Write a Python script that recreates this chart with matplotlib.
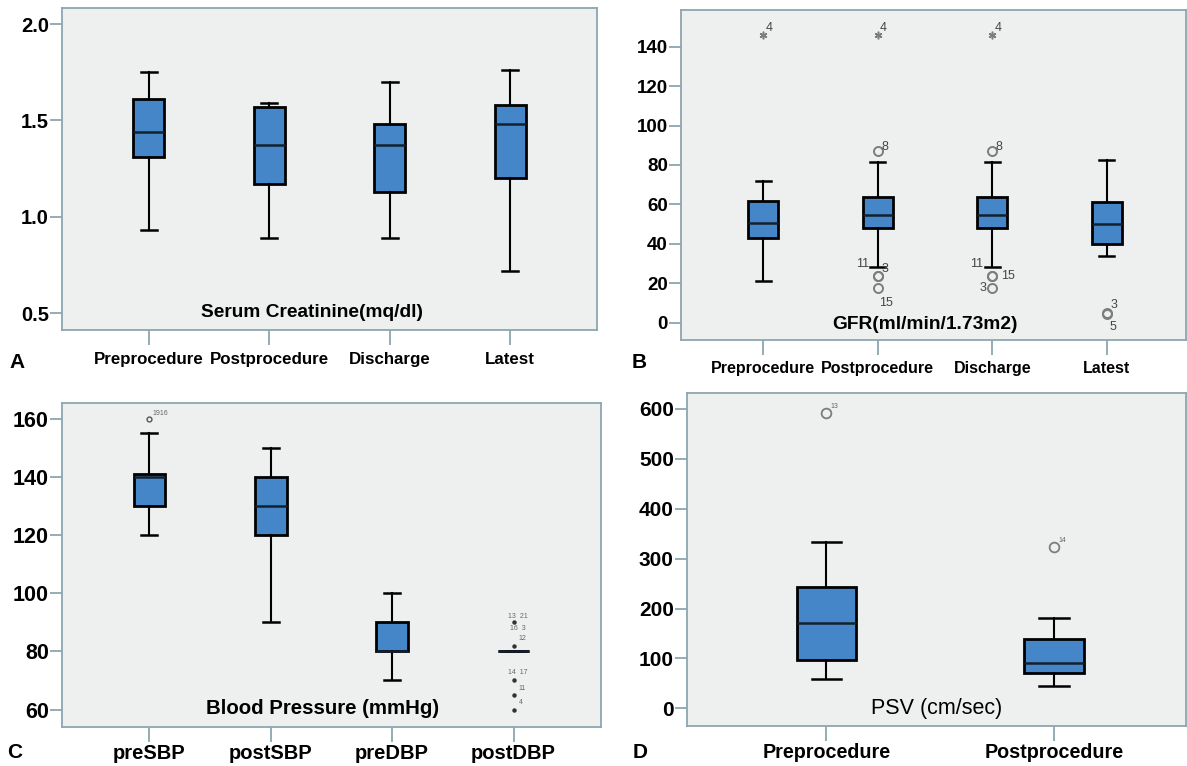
import matplotlib
matplotlib.use('Agg')
import matplotlib.pyplot as plt

# Panel A - serum creatinine
cr_labels = ['Preprocedure', 'Postprocedure', 'Discharge', 'Latest']
cr_low = [0.93, 0.89, 0.89, 0.72]
cr_q1 = [1.31, 1.17, 1.13, 1.20]
cr_med = [1.44, 1.37, 1.37, 1.48]
cr_q3 = [1.61, 1.57, 1.48, 1.58]
cr_high = [1.75, 1.59, 1.70, 1.76]

# Panel B - GFR
gfr_labels = ['Preprocedure', 'Postprocedure', 'Discharge', 'Latest']
gfr_low = [21, 28, 28, 34]
gfr_q1 = [43, 48, 48, 40]
gfr_med = [50.5, 54.5, 54.5, 50]
gfr_q3 = [61.5, 63.5, 63.5, 61]
gfr_high = [72, 81.5, 81.5, 82.5]
# outliers: category, value, marker kind, case label
gfr_out_cat = [1, 2, 2, 2, 2, 2, 3, 3, 3, 3, 3, 4, 4]
gfr_out_val = [146, 146, 87, 23.5, 23.5, 17.5, 146, 87, 23.5, 23.5, 17.5, 4.5, 5]
gfr_out_kind = ['*', '*', 'o', 'o', 'o', 'o', '*', 'o', 'o', 'o', 'o', 'o', 'o']
gfr_out_txt = ['4', '4', '8', '11', '3', '15', '4', '8', '11', '15', '3', '3', '5']

# Panel C - blood pressure
bp_labels = ['preSBP', 'postSBP', 'preDBP', 'postDBP']
bp_low = [120, 90, 70, 80]
bp_q1 = [130, 120, 80, 80]
bp_med = [140, 130, 80, 80]
bp_q3 = [141, 140, 90, 80]
bp_high = [155, 150, 100, 80]
bp_out_cat = [1, 4, 4, 4, 4, 4]
bp_out_val = [160, 90, 82, 70, 65, 60]
bp_out_kind = ['o', '*', '*', '*', '*', '*']
bp_out_txt = ['1916', '13  21\n\n16  3', '12', '14  17', '11', '4']

# Panel D - PSV
psv_labels = ['Preprocedure', 'Postprocedure']
psv_low = [58, 45]
psv_q1 = [97, 71]
psv_med = [171, 90]
psv_q3 = [244, 138]
psv_high = [334, 180]
psv_out_cat = [1, 2]
psv_out_val = [591, 323]
psv_out_txt = ['13', '14']

REG = 'Liberation Sans'

W, H = 1187, 766
BOX = '#4586c8'
FRAME = '#8ca6b0'
AXBG = '#eef0f0'
GREY = '#7d7d7d'

fig = plt.figure(figsize=(W / 100, H / 100), dpi=100)
fig.patch.set_facecolor('white')


def make_ax(l, r, t, b):
    ax = fig.add_axes([l / W, 1 - b / H, (r - l) / W, (b - t) / H])
    ax.set_facecolor(AXBG)
    for s in ax.spines.values():
        s.set_color(FRAME)
        s.set_linewidth(1.3)
    return ax


def draw_boxes(ax, low, q1, med, q3, high, labels, xlim, ylim):
    stats = []
    for i in range(len(labels)):
        stats.append(dict(whislo=low[i], q1=q1[i], med=med[i], q3=q3[i],
                          whishi=high[i], fliers=[], label=labels[i]))
    ax.bxp(stats, positions=range(1, len(labels) + 1), widths=0.26,
           capwidths=0.13, patch_artist=True, showfliers=False,
           boxprops=dict(facecolor=BOX, edgecolor='black', linewidth=2.0),
           medianprops=dict(color='#15202e', linewidth=1.8),
           whiskerprops=dict(color='black', linewidth=1.5),
           capprops=dict(color='black', linewidth=1.8))
    ax.set_xlim(*xlim)
    ax.set_ylim(*ylim)


def style_ticks(ax, xsize, ysize, xpad):
    ax.tick_params(axis='x', length=11, width=1.3, color=FRAME, pad=xpad)
    ax.tick_params(axis='y', length=8.5, width=1.3, color=FRAME, pad=1)
    for t in ax.get_xticklabels():
        t.set_fontfamily(REG)
        t.set_fontsize(xsize)
        t.set_fontweight('bold')
    for t in ax.get_yticklabels():
        t.set_fontfamily(REG)
        t.set_fontsize(ysize)
        t.set_fontweight('bold')


# ---- A ----
axA = make_ax(62, 597, 8, 330)
draw_boxes(axA, cr_low, cr_q1, cr_med, cr_q3, cr_high, cr_labels, (0.28, 4.72), (0.413, 2.083))
axA.set_yticks([0.5, 1.0, 1.5, 2.0])
axA.set_yticklabels(['0.5', '1.0', '1.5', '2.0'])
style_ticks(axA, 12.2, 14.5, 5)
axA.text(0.467, 0.053, 'Serum Creatinine(mq/dl)', transform=axA.transAxes, ha='center',
         va='center', fontsize=13.8, fontweight='bold', family=REG)

# ---- B ----
axB = make_ax(681, 1186, 10, 340)
draw_boxes(axB, gfr_low, gfr_q1, gfr_med, gfr_q3, gfr_high, gfr_labels, (0.283, 4.69), (-8.8, 158.6))
axB.set_yticks(range(0, 141, 20))
style_ticks(axB, 11.5, 13.5, 4)
axB.text(0.484, 0.048, 'GFR(ml/min/1.73m2)', transform=axB.transAxes, ha='center',
         va='center', fontsize=13.8, fontweight='bold', family=REG)
gfr_txt_off = [(4, 5), (4, 5), (5, 3), (-11, 9), (5, 5), (6, -11), (4, 5), (5, 3),
               (-11, 9), (11, 0), (-7, 0), (5, 6), (4, -10)]
for c, v, k, s, off in zip(gfr_out_cat, gfr_out_val, gfr_out_kind, gfr_out_txt, gfr_txt_off):
    if k == '*':
        axB.plot(c, v, marker=(6, 2, 0), ms=5.5, mew=1.1, color=GREY, ls='none')
    else:
        axB.plot(c, v, marker='o', ms=6.5, mfc='none', mec=GREY, mew=1.4, ls='none')
    axB.annotate(s, (c, v), xytext=off, textcoords='offset points', fontsize=9,
                 color='#444444', ha='center', va='center', family=REG)

# ---- C ----
axC = make_ax(62, 601, 403, 727)
draw_boxes(axC, bp_low, bp_q1, bp_med, bp_q3, bp_high, bp_labels, (0.281, 4.72), (54.0, 165.4))
axC.set_yticks(range(60, 161, 20))
style_ticks(axC, 14.5, 15.5, 1)
axC.text(0.484, 0.058, 'Blood Pressure (mmHg)', transform=axC.transAxes, ha='center',
         va='center', fontsize=14.7, fontweight='bold', family=REG)
bp_txt_off = [(8, 4), (3, 0), (6, 5), (3, 6), (6, 5), (5, 5)]
for c, v, k, s, off in zip(bp_out_cat, bp_out_val, bp_out_kind, bp_out_txt, bp_txt_off):
    if k == 'o':
        axC.plot(c, v, marker='o', ms=3.5, mfc='none', mec='#555555', mew=1.0, ls='none')
    else:
        axC.plot(c, v, marker='o', ms=2.2, color='#333333', ls='none')
    axC.annotate(s, (c, v), xytext=off, textcoords='offset points', fontsize=5,
                 color='#666666', ha='center', va='center', family=REG, linespacing=0.8)

# ---- D ----
axD = make_ax(687, 1186, 393, 726)
draw_boxes(axD, psv_low, psv_q1, psv_med, psv_q3, psv_high, psv_labels, (0.388, 2.58), (-35.5, 632))
axD.set_yticks(range(0, 601, 100))
style_ticks(axD, 14.2, 15, 1)
axD.text(0.5, 0.053, 'PSV (cm/sec)', transform=axD.transAxes, ha='center',
         va='center', fontsize=15.5, family=REG)
for c, v, s in zip(psv_out_cat, psv_out_val, psv_out_txt):
    axD.plot(c, v, marker='o', ms=7, mfc='none', mec=GREY, mew=1.3, ls='none')
    axD.annotate(s, (c, v), xytext=(6, 5), textcoords='offset points', fontsize=5,
                 color='#666666', ha='center', va='center', family=REG)

# panel letters
for letter, x, y in [('A', 17, 362), ('B', 639, 362), ('C', 15, 753), ('D', 640, 753)]:
    fig.text(x / W, 1 - y / H, letter, ha='center', va='center', fontsize=15,
             fontweight='bold', family=REG)

fig.savefig('out.png', dpi=100, facecolor='white')
